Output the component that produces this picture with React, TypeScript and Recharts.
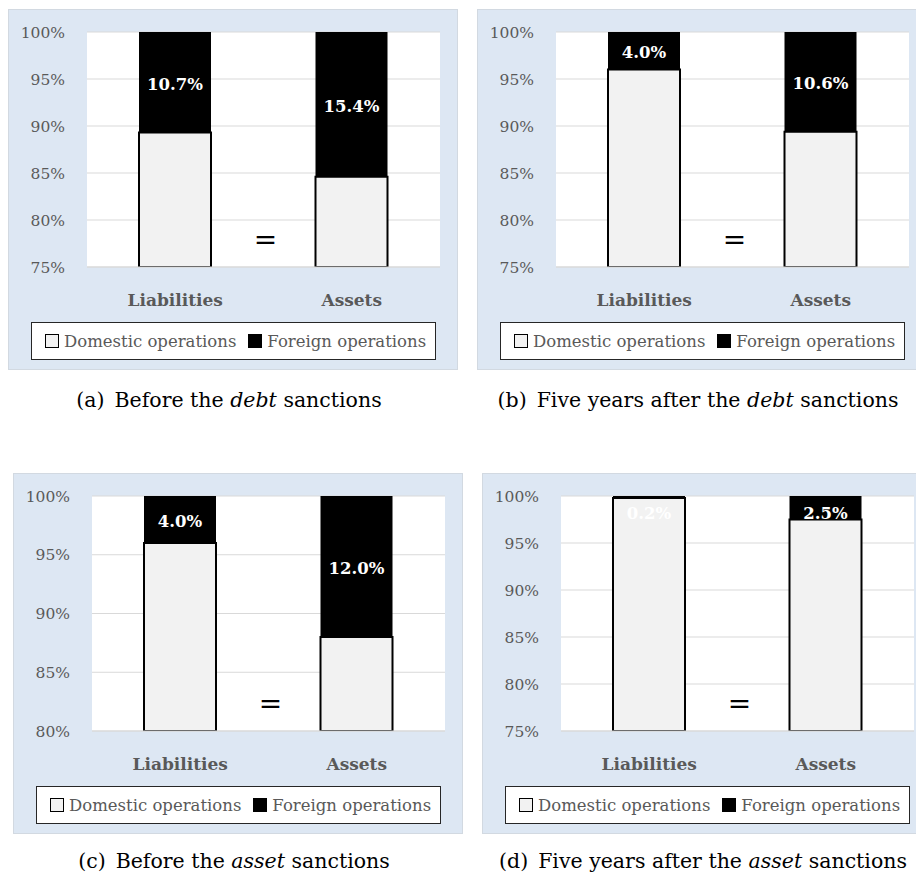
import { Bar, BarChart, CartesianGrid, LabelList, XAxis, YAxis } from "recharts"

const categories = ["Liabilities", "Assets"]
const seriesNames = ["Domestic operations", "Foreign operations"]

// (a) before the debt sanctions
const domesticBeforeDebt = [89.3, 84.6]
const foreignBeforeDebt = [10.7, 15.4]
// (b) five years after the debt sanctions
const domesticAfterDebt = [96.0, 89.4]
const foreignAfterDebt = [4.0, 10.6]
// (c) before the asset sanctions
const domesticBeforeAsset = [96.0, 88.0]
const foreignBeforeAsset = [4.0, 12.0]
// (d) five years after the asset sanctions
const domesticAfterAsset = [99.8, 97.5]
const foreignAfterAsset = [0.2, 2.5]

const ticksFrom75 = [75, 80, 85, 90, 95, 100]
const ticksFrom80 = [80, 85, 90, 95, 100]

const serif = "'DejaVu Serif', serif"
const grey = "#595959"
const PANEL_W = 450
const PANEL_H = 361
const PLOT_LEFT = 79
const PLOT_RIGHT = 18
const PLOT_TOP = 23
const PLOT_BOTTOM = 258

function buildRows(domestic: number[], foreign: number[]) {
  return categories.map((name, i) => ({ name, domestic: domestic[i], foreign: foreign[i] }))
}

function ShareLabel(props: any) {
  const x = Number(props.x)
  const y = Number(props.y)
  const w = Number(props.width)
  const h = Number(props.height)
  // tiny segments get their label pushed down inside the bar, like the original
  const cy = Math.max(y + h / 2 + 2, y + 17)
  return (
    <text
      x={x + w / 2}
      y={cy}
      fill="#ffffff"
      fontFamily={serif}
      fontWeight="bold"
      fontSize={16.5}
      textAnchor="middle"
      dominantBaseline="central"
    >
      {Number(props.value).toFixed(1)}%
    </text>
  )
}

function LegendBox() {
  const swatch = (fill: string) => (
    <span
      style={{
        display: "inline-block",
        flexShrink: 0,
        width: 14,
        height: 14,
        background: fill,
        border: "1.5px solid #000",
        boxSizing: "border-box",
        marginRight: 5,
      }}
    />
  )
  return (
    <div
      style={{
        position: "absolute",
        left: 23,
        top: 313,
        width: 405,
        height: 38,
        boxSizing: "border-box",
        border: "1.5px solid #262626",
        background: "#ffffff",
        display: "flex",
        alignItems: "center",
        paddingLeft: 13,
        fontFamily: serif,
        fontSize: 16.5,
        color: grey,
        whiteSpace: "nowrap",
        overflow: "hidden",
      }}
    >
      {swatch("#f2f2f2")}
      <span style={{ marginRight: 12 }}>{seriesNames[0]}</span>
      {swatch("#000000")}
      <span>{seriesNames[1]}</span>
    </div>
  )
}

type PanelProps = {
  left: number
  top: number
  domestic: number[]
  foreign: number[]
  ticks: number[]
  tag: string
  lead: string
  word: string
}

function Panel({ left, top, domestic, foreign, ticks, tag, lead, word }: PanelProps) {
  const rows = buildRows(domestic, foreign)
  const plotCenter = PLOT_LEFT + (PANEL_W - PLOT_LEFT - PLOT_RIGHT) / 2
  return (
    <>
      <div
        style={{
          position: "absolute",
          left,
          top,
          width: PANEL_W,
          height: PANEL_H,
          background: "#dde7f3",
          boxShadow: "inset 0 0 0 1px #d2d9e1",
        }}
      >
        <BarChart
          width={PANEL_W}
          height={PANEL_H}
          data={rows}
          margin={{ top: PLOT_TOP, right: PLOT_RIGHT, bottom: 43, left: 0 }}
          barSize={72}
        >
          <CartesianGrid vertical={false} stroke="#d9d9d9" fill="#ffffff" fillOpacity={1} />
          <XAxis
            dataKey="name"
            height={60}
            axisLine={{ stroke: "#d9d9d9" }}
            tickLine={false}
            tickMargin={21}
            tick={{ fill: grey, fontFamily: serif, fontWeight: "bold", fontSize: 17 }}
          />
          <YAxis
            type="number"
            domain={[ticks[0], 100]}
            ticks={ticks}
            allowDataOverflow
            width={PLOT_LEFT}
            axisLine={false}
            tickLine={false}
            tickMargin={16}
            tickFormatter={(v) => `${v}%`}
            tick={{ fill: grey, fontFamily: serif, fontSize: 15.5 }}
          />
          <Bar
            dataKey="domestic"
            stackId="share"
            fill="#f2f2f2"
            stroke="#000000"
            strokeWidth={2}
            isAnimationActive={false}
          />
          <Bar dataKey="foreign" stackId="share" fill="#000000" isAnimationActive={false}>
            <LabelList dataKey="foreign" content={ShareLabel} />
          </Bar>
        </BarChart>
        <div
          style={{
            position: "absolute",
            left: plotCenter + 2,
            top: PLOT_BOTTOM - 27,
            transform: "translate(-50%, -50%)",
            fontFamily: serif,
            fontSize: 28,
            lineHeight: 1,
            color: "#000",
          }}
        >
          =
        </div>
        <LegendBox />
      </div>
      <div
        style={{
          position: "absolute",
          left: left + PANEL_W / 2 - 4,
          top: top + (top > 100 ? 388 : 391),
          transform: "translate(-50%, -50%)",
          fontFamily: serif,
          fontSize: 20.5,
          lineHeight: 1,
          whiteSpace: "nowrap",
          color: "#000",
        }}
      >
        {tag}
        <span style={{ marginLeft: 10 }}>{lead} </span>
        <i>{word}</i> sanctions
      </div>
    </>
  )
}

export default function App() {
  return (
    <div
      style={{
        position: "absolute",
        left: 0,
        top: 0,
        width: 916,
        height: 874,
        overflow: "hidden",
        background: "#ffffff",
      }}
    >
      <Panel
        left={8}
        top={9}
        domestic={domesticBeforeDebt}
        foreign={foreignBeforeDebt}
        ticks={ticksFrom75}
        tag="(a)"
        lead="Before the"
        word="debt"
      />
      <Panel
        left={477}
        top={9}
        domestic={domesticAfterDebt}
        foreign={foreignAfterDebt}
        ticks={ticksFrom75}
        tag="(b)"
        lead="Five years after the"
        word="debt"
      />
      <Panel
        left={13}
        top={473}
        domestic={domesticBeforeAsset}
        foreign={foreignBeforeAsset}
        ticks={ticksFrom80}
        tag="(c)"
        lead="Before the"
        word="asset"
      />
      <Panel
        left={482}
        top={473}
        domestic={domesticAfterAsset}
        foreign={foreignAfterAsset}
        ticks={ticksFrom75}
        tag="(d)"
        lead="Five years after the"
        word="asset"
      />
    </div>
  )
}
